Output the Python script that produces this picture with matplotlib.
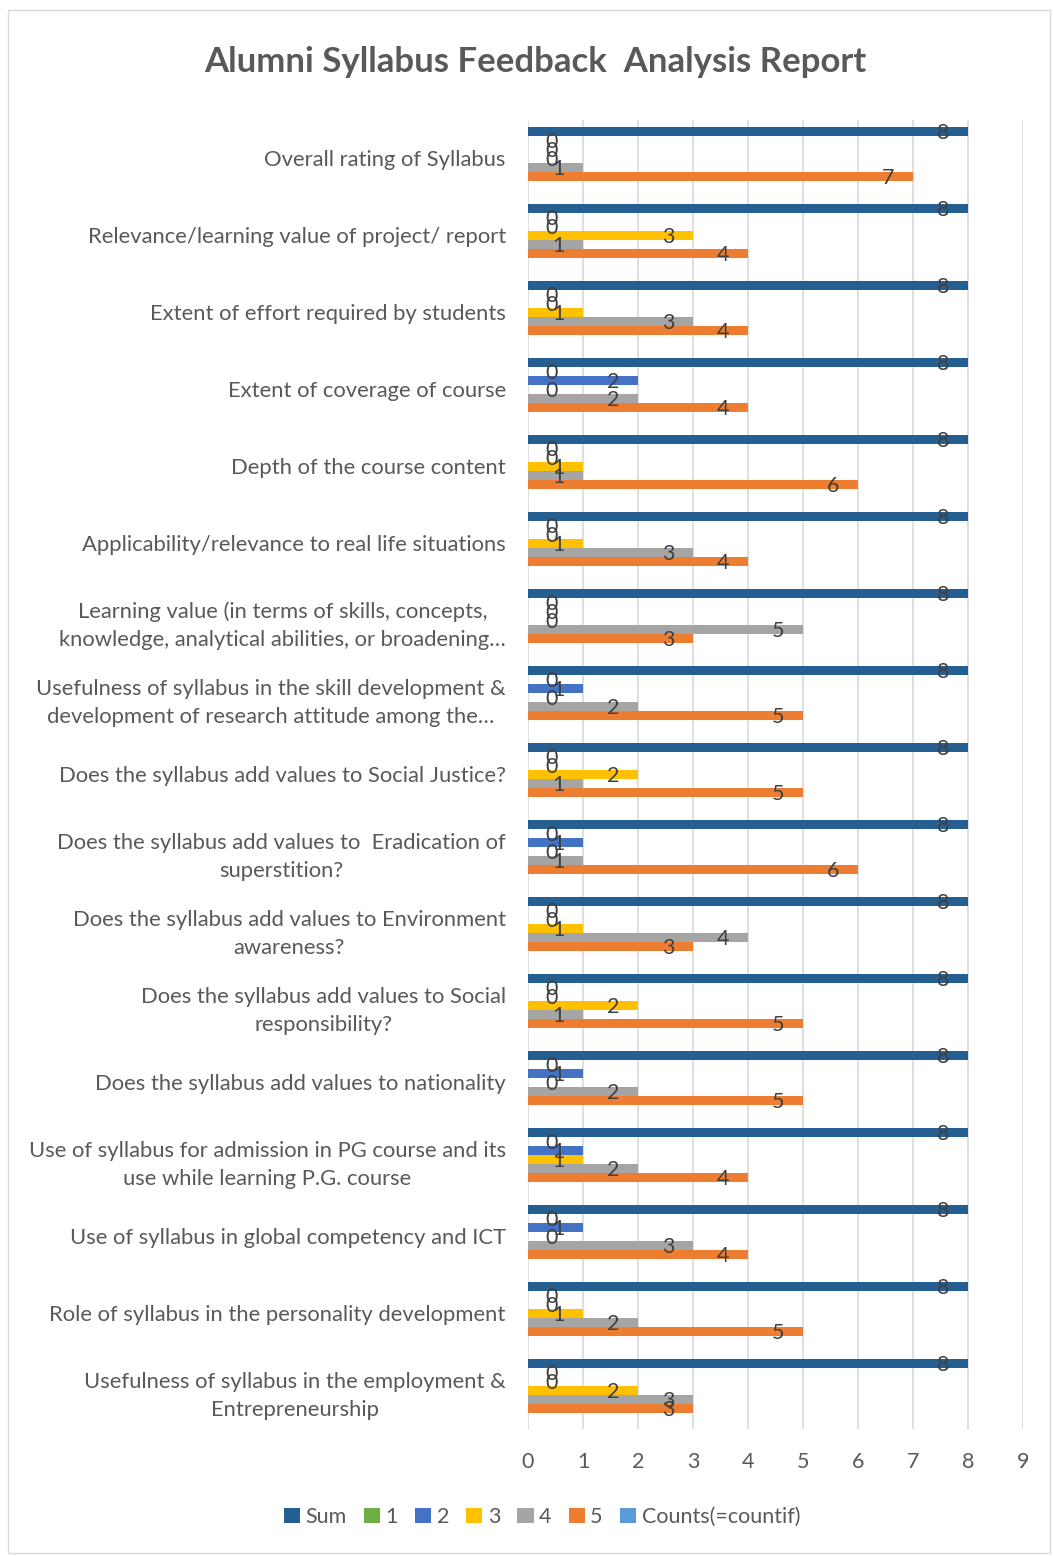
import matplotlib
matplotlib.use("Agg")
import matplotlib.pyplot as plt
import numpy as np
from matplotlib.patches import Rectangle

plt.rcParams['font.family'] = ['Lato', 'DejaVu Sans']

categories = [
    "Overall rating of Syllabus",
    "Relevance/learning value of project/ report",
    "Extent of effort required by students",
    "Extent of coverage of course",
    "Depth of the course content",
    "Applicability/relevance to real life situations",
    "Learning value (in terms of skills, concepts,\nknowledge, analytical abilities, or broadening…",
    "Usefulness of syllabus in the skill development &\ndevelopment of research attitude among the…",
    "Does the syllabus add values to Social Justice?",
    "Does the syllabus add values to  Eradication of\nsuperstition?",
    "Does the syllabus add values to Environment\nawareness?",
    "Does the syllabus add values to Social\nresponsibility?",
    "Does the syllabus add values to nationality",
    "Use of syllabus for admission in PG course and its\nuse while learning P.G. course",
    "Use of syllabus in global competency and ICT",
    "Role of syllabus in the personality development",
    "Usefulness of syllabus in the employment &\nEntrepreneurship",
]
sum_vals = [8, 8, 8, 8, 8, 8, 8, 8, 8, 8, 8, 8, 8, 8, 8, 8, 8]
r1 = [0, 0, 0, 0, 0, 0, 0, 0, 0, 0, 0, 0, 0, 0, 0, 0, 0]
r2 = [0, 0, 0, 2, 0, 0, 0, 1, 0, 1, 0, 0, 1, 1, 1, 0, 0]
r3 = [0, 3, 1, 0, 1, 1, 0, 0, 2, 0, 1, 2, 0, 1, 0, 1, 2]
r4 = [1, 1, 3, 2, 1, 3, 5, 2, 1, 1, 4, 1, 2, 2, 3, 2, 3]
r5 = [7, 4, 4, 4, 6, 4, 3, 5, 5, 6, 3, 5, 5, 4, 4, 5, 3]
counts = [None] * 17

series_names = ["Sum", "1", "2", "3", "4", "5", "Counts(=countif)"]
series_vals = [sum_vals, r1, r2, r3, r4, r5, counts]
colors = ["#255E91", "#70AD47", "#4472C4", "#FFC000", "#A5A5A5", "#ED7D31", "#5B9BD5"]

W, H = 1053, 1556
DPI = 100
fig = plt.figure(figsize=(W / DPI, H / DPI), dpi=DPI)
fig.patch.set_facecolor("white")

# chart border
fig.patches.append(Rectangle((8 / W, 1 - 1553 / H), (1050 - 8) / W, (1553 - 10) / H,
                             transform=fig.transFigure, fill=False, edgecolor="#D9D9D9", lw=1))

ax_left, ax_right = 528 / W, 1023 / W
ax_top, ax_bottom = 1 - 119.5 / H, 1 - 1428.5 / H
ax = fig.add_axes([ax_left, ax_bottom, ax_right - ax_left, ax_top - ax_bottom])

n_ser = len(series_names)
slot = 9 / 77.0
y = np.arange(len(categories))
px_per_pt = DPI / 72.0

for k, (name, vals, col) in enumerate(zip(series_names, series_vals, colors)):
    offs = (k - (n_ser - 1) / 2) * slot
    v = np.array([np.nan if x is None else x for x in vals], dtype=float)
    ax.barh(y + offs, np.nan_to_num(v), height=slot, color=col, label=name,
            edgecolor="none", zorder=3)
    for yi, val in zip(y, v):
        if np.isnan(val):
            continue
        end_px = val * 55.0
        cx = max(end_px - 25.0, 24.0)
        ax.annotate(f"{int(val)}", xy=(0, yi + offs), xytext=(cx / px_per_pt, -1.5),
                    textcoords="offset points", ha="center", va="center",
                    fontsize=15.5, color="#404040", zorder=5)

ax.set_xlim(0, 9)
ax.set_ylim(len(categories) - 0.5, -0.5)
ax.set_xticks(range(10))
ax.set_yticks(y)
ax.set_yticklabels(categories)
for t in ax.get_yticklabels():
    t.set_multialignment("center")
    t.set_linespacing(1.5)
ax.tick_params(axis="y", length=0, pad=16, labelsize=15.8, labelcolor="#595959")
ax.tick_params(axis="x", length=0, pad=17, labelsize=15.5, labelcolor="#595959")
ax.grid(axis="x", color="#D9D9D9", lw=1.2, zorder=0)
for s in ax.spines.values():
    s.set_visible(False)

fig.text(535.5 / W, 1 - 62 / H, "Alumni Syllabus Feedback  Analysis Report",
         ha="center", va="center", fontsize=25, fontweight="bold", color="#595959")

leg = fig.legend(*ax.get_legend_handles_labels(), loc="center", bbox_to_anchor=(542 / W, 1 - 1517 / H),
                 ncol=7, frameon=False, fontsize=15.5, handlelength=0.75, handleheight=0.75,
                 handletextpad=0.25, columnspacing=0.8, labelcolor="#595959")

fig.savefig("out.png", dpi=DPI)
